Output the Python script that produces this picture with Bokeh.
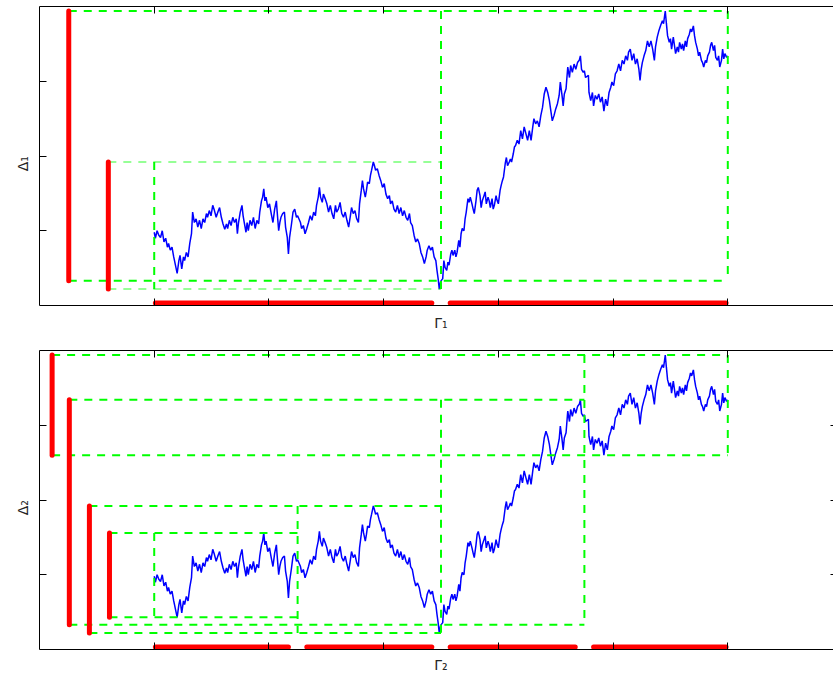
import numpy as np
from bokeh.plotting import figure
from bokeh.layouts import column
from bokeh.models import LinearAxis, FixedTicker, Range1d
from bokeh.embed import file_html
from bokeh.resources import INLINE

# ---- data: one sample path (time in [0,1], level in axis-tick units) ----
walk_t = [
    0.000, 0.002, 0.005, 0.008, 0.011, 0.014, 0.017, 0.020, 0.023, 0.025,
    0.028, 0.031, 0.034, 0.037, 0.040, 0.043, 0.045, 0.048, 0.051, 0.053,
    0.056, 0.059, 0.062, 0.065, 0.067, 0.070, 0.073, 0.076, 0.079, 0.082,
    0.085, 0.088, 0.091, 0.093, 0.096, 0.099, 0.102, 0.105, 0.108, 0.111,
    0.114, 0.117, 0.120, 0.123, 0.126, 0.128, 0.131, 0.134, 0.137, 0.140,
    0.143, 0.145, 0.147, 0.150, 0.153, 0.155, 0.157, 0.160, 0.162, 0.164,
    0.167, 0.170, 0.173, 0.176, 0.179, 0.182, 0.184, 0.187, 0.189, 0.191,
    0.193, 0.195, 0.198, 0.201, 0.204, 0.207, 0.210, 0.213, 0.214, 0.217,
    0.219, 0.221, 0.224, 0.227, 0.229, 0.232, 0.234, 0.236, 0.239, 0.242,
    0.245, 0.248, 0.250, 0.255, 0.257, 0.260, 0.263, 0.266, 0.269, 0.272,
    0.275, 0.278, 0.281, 0.283, 0.286, 0.288, 0.290, 0.293, 0.295, 0.298,
    0.301, 0.304, 0.307, 0.310, 0.313, 0.316, 0.318, 0.321, 0.324, 0.327,
    0.330, 0.333, 0.336, 0.339, 0.342, 0.344, 0.347, 0.350, 0.353, 0.356,
    0.358, 0.361, 0.363, 0.365, 0.368, 0.370, 0.372, 0.375, 0.377, 0.379,
    0.382, 0.384, 0.386, 0.389, 0.392, 0.395, 0.398, 0.401, 0.404, 0.407,
    0.410, 0.412, 0.415, 0.418, 0.421, 0.424, 0.427, 0.430, 0.433, 0.436,
    0.439, 0.442, 0.445, 0.447, 0.450, 0.453, 0.456, 0.459, 0.462, 0.465,
    0.468, 0.471, 0.474, 0.476, 0.479, 0.482, 0.485, 0.488, 0.491, 0.493,
    0.495, 0.497, 0.499, 0.500, 0.503, 0.505, 0.507, 0.510, 0.512, 0.514,
    0.517, 0.519, 0.521, 0.524, 0.526, 0.528, 0.531, 0.533, 0.535, 0.537,
    0.540, 0.542, 0.544, 0.547, 0.549, 0.551, 0.554, 0.556, 0.558, 0.561,
    0.563, 0.565, 0.568, 0.570, 0.572, 0.575, 0.577, 0.579, 0.582, 0.584,
    0.586, 0.589, 0.591, 0.593, 0.596, 0.598, 0.600, 0.603, 0.605, 0.607,
    0.609, 0.612, 0.614, 0.616, 0.619, 0.621, 0.623, 0.626, 0.628, 0.630,
    0.633, 0.636, 0.639, 0.642, 0.645, 0.648, 0.651, 0.654, 0.657, 0.660,
    0.662, 0.665, 0.668, 0.671, 0.674, 0.677, 0.680, 0.683, 0.686, 0.689,
    0.691, 0.694, 0.697, 0.700, 0.703, 0.706, 0.708, 0.711, 0.713, 0.715,
    0.718, 0.721, 0.724, 0.726, 0.729, 0.732, 0.735, 0.738, 0.741, 0.743,
    0.745, 0.748, 0.750, 0.752, 0.757, 0.758, 0.761, 0.764, 0.766, 0.769,
    0.772, 0.775, 0.778, 0.781, 0.784, 0.787, 0.790, 0.793, 0.796, 0.798,
    0.801, 0.804, 0.807, 0.810, 0.813, 0.816, 0.819, 0.822, 0.825, 0.827,
    0.830, 0.833, 0.836, 0.839, 0.842, 0.845, 0.847, 0.849, 0.851, 0.854,
    0.857, 0.860, 0.863, 0.866, 0.869, 0.872, 0.874, 0.877, 0.880, 0.883,
    0.886, 0.888, 0.891, 0.893, 0.895, 0.898, 0.900, 0.902, 0.905, 0.907,
    0.909, 0.912, 0.914, 0.916, 0.919, 0.921, 0.923, 0.926, 0.928, 0.930,
    0.933, 0.935, 0.937, 0.940, 0.942, 0.944, 0.947, 0.949, 0.951, 0.954,
    0.956, 0.958, 0.961, 0.963, 0.965, 0.968, 0.970, 0.972, 0.975, 0.977,
    0.979, 0.982, 0.984, 0.986, 0.989, 0.991, 0.993, 0.995, 0.998, 1.000,
]
walk_v = [
    0.98, 0.90, 1.00, 0.94, 0.91, 1.00, 0.85, 0.90, 0.78, 0.83,
    0.74, 0.78, 0.65, 0.54, 0.43, 0.60, 0.67, 0.49, 0.65, 0.60,
    0.71, 0.65, 0.83, 0.96, 1.25, 1.11, 1.16, 1.05, 1.14, 1.03,
    1.16, 1.11, 1.23, 1.18, 1.27, 1.20, 1.34, 1.27, 1.18, 1.25,
    1.31, 1.18, 1.09, 1.02, 1.09, 1.03, 1.14, 1.07, 1.18, 1.11,
    1.16, 0.96, 1.11, 1.25, 1.34, 1.20, 1.11, 0.98, 1.11, 1.00,
    1.14, 1.07, 1.18, 1.03, 1.14, 1.09, 1.25, 1.40, 1.45, 1.56,
    1.40, 1.45, 1.31, 1.36, 1.23, 1.11, 1.29, 1.40, 1.29, 1.00,
    1.11, 1.18, 1.23, 1.25, 1.05, 0.91, 0.69, 0.91, 1.07, 1.25,
    1.29, 1.18, 1.20, 1.11, 1.03, 1.07, 0.96, 1.03, 1.11, 1.20,
    1.14, 1.25, 1.20, 1.34, 1.45, 1.58, 1.45, 1.38, 1.49, 1.43,
    1.36, 1.25, 1.34, 1.23, 1.16, 1.34, 1.25, 1.29, 1.38, 1.23,
    1.18, 1.25, 1.14, 1.05, 1.20, 1.31, 1.23, 1.27, 1.16, 1.11,
    1.36, 1.54, 1.67, 1.56, 1.45, 1.54, 1.65, 1.63, 1.74, 1.81,
    1.92, 1.87, 1.81, 1.83, 1.74, 1.67, 1.58, 1.63, 1.49, 1.43,
    1.47, 1.36, 1.40, 1.29, 1.25, 1.34, 1.23, 1.31, 1.20, 1.27,
    1.18, 1.14, 1.23, 1.11, 1.07, 0.94, 0.85, 0.89, 0.83, 0.71,
    0.65, 0.56, 0.65, 0.74, 0.80, 0.74, 0.78, 0.65, 0.60, 0.47,
    0.36, 0.22, 0.31, 0.33, 0.36, 0.60, 0.51, 0.47, 0.58, 0.54,
    0.69, 0.74, 0.67, 0.74, 0.65, 0.71, 0.87, 0.78, 0.96, 1.03,
    1.00, 1.16, 1.25, 1.43, 1.38, 1.45, 1.36, 1.29, 1.23, 1.40,
    1.54, 1.58, 1.47, 1.31, 1.40, 1.47, 1.52, 1.36, 1.45, 1.40,
    1.31, 1.43, 1.29, 1.34, 1.47, 1.40, 1.36, 1.54, 1.61, 1.67,
    1.72, 1.90, 1.98, 1.87, 1.92, 1.96, 1.92, 2.03, 2.12, 2.14,
    2.21, 2.16, 2.34, 2.23, 2.39, 2.30, 2.21, 2.34, 2.21, 2.39,
    2.50, 2.43, 2.47, 2.39, 2.54, 2.65, 2.83, 2.92, 2.85, 2.74,
    2.63, 2.47, 2.54, 2.63, 2.70, 2.81, 2.99, 2.81, 2.67, 2.83,
    2.90, 3.19, 3.05, 3.21, 3.12, 3.23, 3.16, 3.25, 3.28, 3.34,
    3.16, 3.12, 3.14, 3.05, 3.08, 2.85, 2.74, 2.85, 2.67, 2.81,
    2.76, 2.83, 2.72, 2.79, 2.60, 2.76, 2.67, 2.85, 2.92, 2.99,
    2.94, 3.10, 3.14, 3.23, 3.14, 3.28, 3.23, 3.34, 3.28, 3.39,
    3.43, 3.28, 3.37, 3.23, 3.30, 3.16, 3.01, 3.16, 3.25, 3.34,
    3.41, 3.54, 3.46, 3.54, 3.43, 3.28, 3.46, 3.59, 3.68, 3.75,
    3.81, 3.77, 3.94, 3.77, 3.61, 3.52, 3.57, 3.43, 3.59, 3.48,
    3.37, 3.46, 3.39, 3.52, 3.43, 3.50, 3.41, 3.54, 3.46, 3.57,
    3.63, 3.70, 3.66, 3.74, 3.61, 3.52, 3.43, 3.34, 3.39, 3.28,
    3.25, 3.19, 3.28, 3.25, 3.34, 3.39, 3.48, 3.52, 3.41, 3.48,
    3.32, 3.28, 3.34, 3.19, 3.28, 3.43, 3.30, 3.37, 3.32, 3.34,
]
assert len(walk_t) == len(walk_v)

x_ticks = [0.0, 0.2, 0.4, 0.6, 0.8, 1.0]
y_ticks = [1.0, 2.0, 3.0]
x_label_pos = 0.5
y_label_pos = 2.0

# panel 1: dyadic split into 2 intervals; panel 2: into 4 intervals
p1_start = [0.5, 0.0]
p1_end = [1.0, 0.5]
p1_bar_x = [-0.149, -0.080]

p2_start = [0.75, 0.5, 0.25, 0.0]
p2_end = [1.0, 0.75, 0.5, 0.25]
p2_bar_x = [-0.178, -0.148, -0.113, -0.078]

x_labels = ["\u0393\u2081", "\u0393\u2082"]
y_labels = ["\u0394\u2081", "\u0394\u2082"]

GREEN = "#00ff00"
RED = "#ff0000"
BLUE = "#0000ff"
TXT = "#262626"
DASH = "8 7"


def base_axis(ax):
    ax.major_tick_in = 0
    ax.major_tick_out = 0
    ax.minor_tick_in = 7
    ax.minor_tick_out = 0
    ax.axis_line_color = "black"
    ax.axis_line_width = 1
    ax.minor_tick_line_color = "black"
    ax.minor_tick_line_width = 1
    ax.major_label_text_font = "DejaVu Sans"
    ax.major_label_text_font_size = "14px"
    ax.major_label_text_color = TXT


def make_panel(starts, ends, bar_x, height, top, bottom, xlab, ylab,
               light, xstand, right_ticks):
    t = np.array(walk_t)
    v = np.array(walk_v)
    lo, hi = [], []
    for a, b in zip(starts, ends):
        m = (t >= a - 1e-9) & (t <= b + 1e-9)
        lo.append(float(v[m].min()))
        hi.append(float(v[m].max()))

    p = figure(width=833, height=height,
               x_range=Range1d(-0.2, 1.1843), y_range=Range1d(0, 4),
               output_backend="svg", toolbar_location=None,
               min_border_left=39, min_border_right=0,
               min_border_top=top, min_border_bottom=bottom)
    p.outline_line_color = None
    p.xgrid.visible = False
    p.ygrid.visible = False

    # bottom axis: tick marks as minor ticks, single label at the split
    xb = p.xaxis[0]
    base_axis(xb)
    xb.ticker = FixedTicker(ticks=[x_label_pos], minor_ticks=x_ticks)
    xb.major_label_overrides = {x_label_pos: xlab}
    xb.major_label_standoff = xstand

    # top axis: tick marks only
    xa = LinearAxis()
    base_axis(xa)
    xa.ticker = FixedTicker(ticks=[], minor_ticks=x_ticks)
    p.add_layout(xa, "above")

    # left axis: tick marks + rotated label
    yl = p.yaxis[0]
    base_axis(yl)
    yl.ticker = FixedTicker(ticks=[y_label_pos], minor_ticks=y_ticks)
    yl.major_label_overrides = {y_label_pos: ylab}
    yl.major_label_orientation = float(np.pi / 2)
    yl.major_label_standoff = 17

    if right_ticks:
        yr = LinearAxis()
        base_axis(yr)
        yr.axis_line_color = None
        yr.minor_tick_in = 3
        yr.ticker = FixedTicker(ticks=[], minor_ticks=y_ticks)
        p.add_layout(yr, "right")

    # sample path
    p.line(walk_t, walk_v, line_color=BLUE, line_width=1.5)

    # dashed boxes: horizontals from the bar to the interval end
    for i in range(len(starts)):
        is_light = i in light
        hw = 1.4 if is_light else 2
        ha = 0.55 if is_light else 1.0
        p.segment(x0=[bar_x[i], bar_x[i]], y0=[hi[i], lo[i]],
                  x1=[ends[i], ends[i]], y1=[hi[i], lo[i]],
                  line_color=GREEN, line_width=hw, line_alpha=ha,
                  line_dash=DASH)

    # box sides: shared sides merged into one dashed line
    sides = {}
    for a, b, l, h in zip(starts, ends, lo, hi):
        for x in (a, b):
            if x in sides:
                sides[x] = (min(sides[x][0], l), max(sides[x][1], h))
            else:
                sides[x] = (l, h)
    sx = sorted(sides)
    p.segment(x0=sx, y0=[sides[x][1] for x in sx],
              x1=sx, y1=[sides[x][0] for x in sx],
              line_color=GREEN, line_width=2, line_dash=DASH)

    # red vertical range bars
    p.segment(x0=bar_x, y0=lo, x1=bar_x, y1=hi,
              line_color=RED, line_width=5, line_cap="round")

    # red interval bars along the time axis
    bx0 = [a + (0.016 if a > 0 else 0.002) for a in starts]
    bx1 = [b - (0.016 if b < 1 else 0.003) for b in ends]
    yb = [0.035] * len(starts)
    p.segment(x0=bx0, y0=yb, x1=bx1, y1=yb,
              line_color=RED, line_width=5, line_cap="round")
    return p


p1 = make_panel(p1_start, p1_end, p1_bar_x, 340, 6, 35,
                x_labels[0], y_labels[0], light=[1], xstand=9,
                right_ticks=False)
p2 = make_panel(p2_start, p2_end, p2_bar_x, 335, 10, 26,
                x_labels[1], y_labels[1], light=[], xstand=7,
                right_ticks=True)

p = column(p1, p2, spacing=0)
open("out.html", "w").write(file_html(p, INLINE))
